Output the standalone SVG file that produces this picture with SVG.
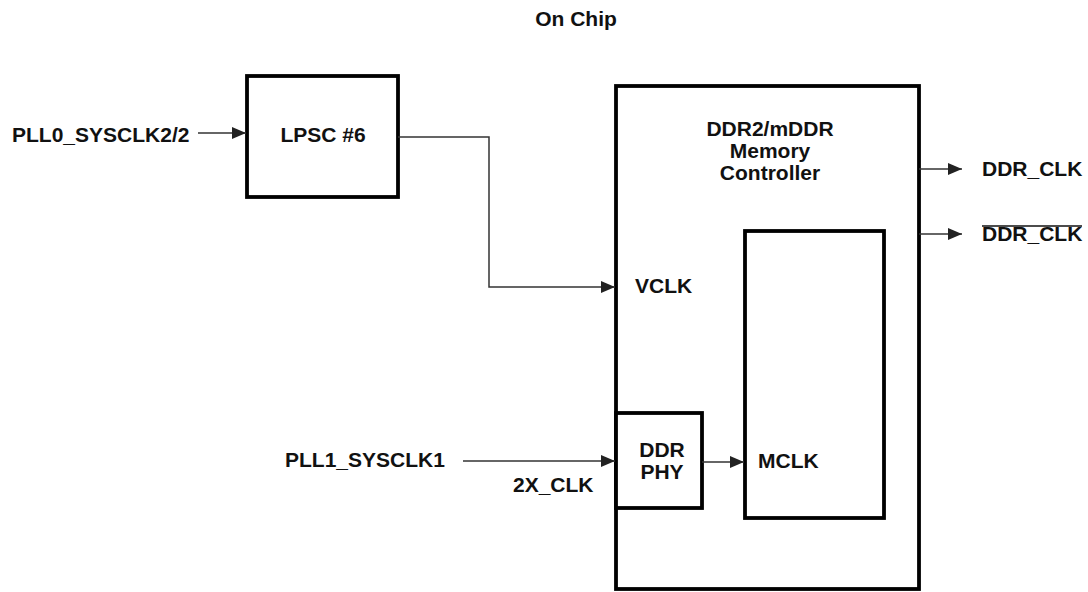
<svg xmlns="http://www.w3.org/2000/svg" width="1088" height="592" viewBox="0 0 1088 592">
<defs>
<style>
text{font-family:"Liberation Sans",Arial,sans-serif;font-weight:bold;font-size:21px;fill:#111}
.box{fill:#fff;stroke:#000;stroke-width:3.8}
.wire{fill:none;stroke:#333;stroke-width:1.5}
.mid{text-anchor:middle}
</style>
<marker id="arr" markerUnits="userSpaceOnUse" markerWidth="15" markerHeight="15" refX="14" refY="7.5" orient="auto">
<path d="M0,1.5 L14,7.5 L0,13.5 Z" fill="#222"/>
</marker>
</defs>
<rect width="1088" height="592" fill="#fff"/>
<text class="mid" x="576" y="26">On Chip</text>
<g id="main">
<rect class="box" x="616" y="86" width="303" height="503"/>
<text class="mid" x="770" y="136">DDR2/mDDR</text>
<text class="mid" x="770" y="158">Memory</text>
<text class="mid" x="770" y="180">Controller</text>
<text x="635" y="293">VCLK</text>
</g>
<g id="lpsc">
<rect class="box" x="247" y="76" width="151" height="121"/>
<text class="mid" x="323" y="142">LPSC #6</text>
</g>
<g id="inner">
<rect class="box" x="745" y="231" width="139" height="287"/>
<text x="758" y="468">MCLK</text>
</g>
<g id="phy">
<rect class="box" x="616" y="413" width="86" height="95"/>
<text class="mid" x="662" y="457">DDR</text>
<text class="mid" x="662" y="479">PHY</text>
</g>
<g id="labels">
<text x="12" y="142">PLL0_SYSCLK2/2</text>
<text x="285" y="467">PLL1_SYSCLK1</text>
<text x="513" y="492">2X_CLK</text>
<text x="982" y="176">DDR_CLK</text>
<text x="982" y="241">DDR_CLK</text>
<line x1="982" y1="226" x2="1082" y2="226" stroke="#111" stroke-width="1.5"/>
</g>
<g id="connectors">
<line class="wire" x1="198" y1="133" x2="246" y2="133" marker-end="url(#arr)"/>
<path class="wire" d="M398,137 H489 V287 H615" marker-end="url(#arr)"/>
<line class="wire" x1="463" y1="461" x2="615" y2="461" marker-end="url(#arr)"/>
<line class="wire" x1="702" y1="462" x2="744" y2="462" marker-end="url(#arr)"/>
<line class="wire" x1="919" y1="169" x2="962" y2="169" marker-end="url(#arr)"/>
<line class="wire" x1="919" y1="234" x2="962" y2="234" marker-end="url(#arr)"/>
</g>
</svg>
